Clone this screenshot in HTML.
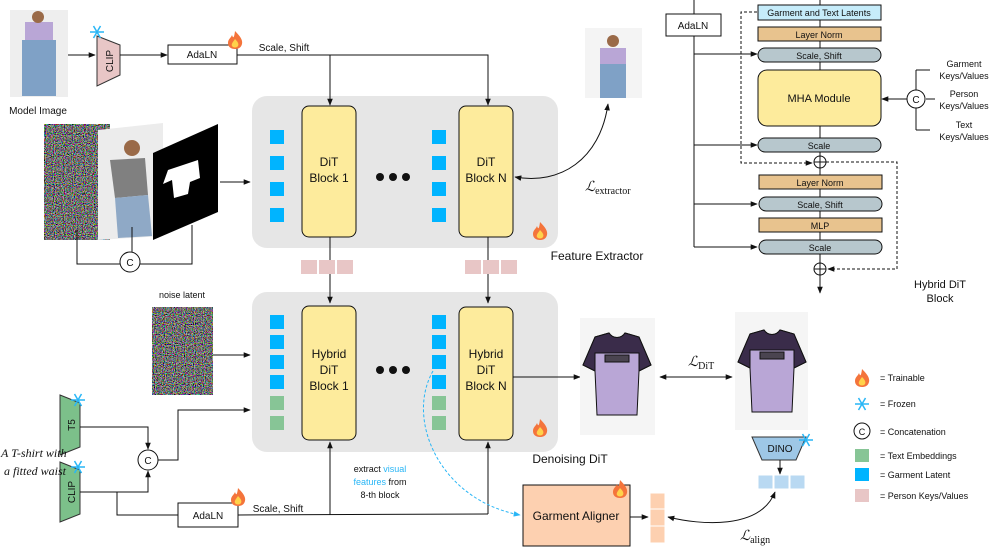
<!DOCTYPE html>
<html><head><meta charset="utf-8"><style>
body{margin:0;background:#fff}
svg{display:block;font-family:"Liberation Sans",sans-serif}
</style></head><body>
<svg width="996" height="560" viewBox="0 0 996 560" xmlns="http://www.w3.org/2000/svg">
<defs>
<marker id="a" viewBox="0 0 10 10" refX="9" refY="5" markerWidth="7" markerHeight="7" orient="auto-start-reverse"><path d="M0,1 L10,5 L0,9 z" fill="#111"/></marker>
<marker id="ab" viewBox="0 0 10 10" refX="9" refY="5" markerWidth="7" markerHeight="7" orient="auto"><path d="M0,1 L10,5 L0,9 z" fill="#29b6f6"/></marker>
<filter id="nz" x="0" y="0" width="100%" height="100%"><feTurbulence type="fractalNoise" baseFrequency="0.9" numOctaves="1" seed="3"/><feColorMatrix type="matrix" values="1.8 0 0 0 -0.7  0 1.8 0 0 -0.7  0 0 1.8 0 -0.7  0 0 0 0 1"/></filter>
<g id="flame"><path d="M0,-9 C5,-4 8,0 7,4 C6,8 3,9 0,9 C-4,9 -7,7 -7,3 C-7,-1 -4,-2 -3,-5 C-2,-2 -1,-1 0,-9z" fill="#f4743b"/><path d="M0,-1 C3,2 4,4 3,6 C2,8 -2,8 -3,6 C-4,4 -2,2 0,-1z" fill="#ffd24a"/></g>
<g id="snow" stroke="#29b6f6" stroke-width="1.5"><line x1="-7" y1="0" x2="7" y2="0"/><line x1="-3.5" y1="-6" x2="3.5" y2="6"/><line x1="3.5" y1="-6" x2="-3.5" y2="6"/></g>
<g id="shirt"><path d="M-22,-38 L-8,-42 C-4,-36 4,-36 8,-42 L22,-38 L34,-10 L22,-4 L20,40 L-20,40 L-22,-4 L-34,-10z" fill="#b9a6d6"/><path d="M-22,-38 L-8,-42 C-4,-36 4,-36 8,-42 L22,-38 L34,-10 L22,-4 L22,-22 L-22,-22 L-22,-4 L-34,-10z" fill="#3a2c4a"/><rect x="-12" y="-20" width="24" height="7" fill="#4a4450"/></g>
</defs>
<rect x="252" y="96" width="306" height="152" rx="15" fill="#e6e6e6"/>
<rect x="252" y="292" width="306" height="160" rx="15" fill="#e6e6e6"/>
<g stroke="#111" stroke-width="1" fill="none">
<!-- top row -->
<rect x="10" y="10" width="58" height="87" fill="#eeeeee" stroke="none"/>
<rect x="25" y="22" width="28" height="18" fill="#b9a6d6" stroke="none"/><rect x="22" y="40" width="34" height="56" fill="#7fa1c6" stroke="none"/><circle cx="38" cy="17" r="6" fill="#9a6a48" stroke="none"/>
<line x1="68" y1="55" x2="95" y2="55" marker-end="url(#a)"/>
<path d="M97,36 L120,45 L120,75 L97,86z" fill="#e8c6c6" stroke="#333"/>
<line x1="120" y1="55" x2="167" y2="55" marker-end="url(#a)"/>
<rect x="168" y="45" width="69" height="19" fill="#fff"/>
<path d="M237,55 L330,55 L330,105" marker-end="url(#a)"/>
<path d="M330,55 L488,55 L488,105" marker-end="url(#a)"/>
<!-- feature extractor -->
<rect x="302" y="106" width="54" height="131" rx="7" fill="#fdeb9c"/>
<rect x="459" y="106" width="54" height="131" rx="7" fill="#fdeb9c"/>
<!-- input images -->
<path d="M44,152 L110,124 L110,226 L44,240z" fill="#333" stroke="none"/>
<path d="M44,152 L110,124 L110,226 L44,240z" filter="url(#nz)" stroke="none"/>
<path d="M98,130 L163,123 L163,236 L98,240z" fill="#ececec" stroke="none"/>
<path d="M110,160 L145,158 L148,195 L115,198z" fill="#808080" stroke="none"/><path d="M115,198 L148,195 L152,236 L118,238z" fill="#8fa9c6" stroke="none"/><circle cx="132" cy="148" r="8" fill="#9a6a48" stroke="none"/>
<path d="M153,153 L218,124 L218,212 L153,240z" fill="#000" stroke="none"/>
<path d="M168,170 L198,160 L200,178 L190,182 L188,194 L174,198 L172,180 L163,184z" fill="#fff" stroke="none"/>
<line x1="220" y1="182" x2="250" y2="182" marker-end="url(#a)"/>
<path d="M77,230 L77,264 L120,264 M132,227 L132,252 M140,264 L192,264 L192,225"/>
<circle cx="130" cy="262" r="10" fill="#fff"/>
<line x1="330" y1="237" x2="330" y2="303" marker-end="url(#a)"/>
<line x1="488" y1="237" x2="488" y2="303" marker-end="url(#a)"/>
<!-- right woman & loss -->
<rect x="585" y="28" width="57" height="70" fill="#f4f4f4" stroke="none"/>
<rect x="600" y="48" width="26" height="16" fill="#b9a6d6" stroke="none"/><rect x="600" y="64" width="26" height="34" fill="#7fa1c6" stroke="none"/><circle cx="613" cy="41" r="6" fill="#9a6a48" stroke="none"/>
<path d="M515,177 C560,185 600,160 608,104" marker-start="url(#a)" marker-end="url(#a)"/>
<!-- denoising -->
<rect x="302" y="306" width="54" height="134" rx="7" fill="#fdeb9c"/>
<rect x="459" y="307" width="54" height="133" rx="7" fill="#fdeb9c"/>
<rect x="152" y="307" width="61" height="88" fill="#333" stroke="none"/>
<rect x="152" y="307" width="61" height="88" filter="url(#nz)" stroke="none"/>
<line x1="213" y1="355" x2="250" y2="355" marker-end="url(#a)"/>
<path d="M60,395 L80,403 L80,447 L60,455z" fill="#7cc08a" stroke="#333"/>
<path d="M60,462 L80,470 L80,514 L60,522z" fill="#7cc08a" stroke="#333"/>
<path d="M80,427 L148,427 L148,449" marker-end="url(#a)"/>
<path d="M80,492 L148,492 L148,471" marker-end="url(#a)"/>
<circle cx="148" cy="460" r="10" fill="#fff"/>
<path d="M158,460 L178,460 L178,410 L250,410" marker-end="url(#a)"/>
<path d="M117,492 L117,515 L178,515"/>
<rect x="178" y="503" width="60" height="24" fill="#fff"/>
<path d="M238,515 L488,514"/>
<line x1="330" y1="515" x2="330" y2="442" marker-end="url(#a)"/>
<line x1="488" y1="514" x2="488" y2="442" marker-end="url(#a)"/>
<line x1="513" y1="377" x2="580" y2="377" marker-end="url(#a)"/>
<path d="M433,371 C405,420 440,500 520,515" stroke="#29b6f6" stroke-dasharray="3,2" marker-end="url(#ab)"/>
<rect x="523" y="485" width="107" height="61" fill="#fdd0b0"/>
<rect x="650" y="493" width="15" height="16" fill="#fdd0b0" stroke="#fff"/><rect x="650" y="509" width="15" height="17" fill="#fdd0b0" stroke="#fff"/><rect x="650" y="526" width="15" height="17" fill="#fdd0b0" stroke="#fff"/>
<line x1="630" y1="517" x2="648" y2="517" marker-end="url(#a)"/>
<path d="M668,517 C700,525 760,530 775,492" marker-start="url(#a)" marker-end="url(#a)"/>
<rect x="580" y="318" width="75" height="117" fill="#f5f5f5" stroke="none"/>
<use href="#shirt" x="617" y="375"/>
<rect x="735" y="312" width="73" height="118" fill="#f5f5f5" stroke="none"/>
<use href="#shirt" x="772" y="372"/>
<line x1="660" y1="377" x2="732" y2="377" marker-start="url(#a)" marker-end="url(#a)"/>
<path d="M752,437 L806,437 L796,460 L762,460z" fill="#9ec7e6" stroke="#333"/>
<line x1="780" y1="460" x2="780" y2="474" marker-end="url(#a)"/>
<rect x="758" y="475" width="15" height="14" fill="#b9d9f2" stroke="#fff"/><rect x="774" y="475" width="15" height="14" fill="#b9d9f2" stroke="#fff"/><rect x="790" y="475" width="15" height="14" fill="#b9d9f2" stroke="#fff"/>
<!-- right block -->
<line x1="694" y1="0" x2="694" y2="14"/>
<rect x="666" y="14" width="55" height="22" fill="#fff"/>
<path d="M694,36 L694,247"/>
<line x1="694" y1="54" x2="757" y2="54" marker-end="url(#a)"/>
<line x1="694" y1="145" x2="757" y2="145" marker-end="url(#a)"/>
<line x1="694" y1="204" x2="757" y2="204" marker-end="url(#a)"/>
<line x1="694" y1="247" x2="757" y2="247" marker-end="url(#a)"/>
<line x1="820" y1="0" x2="820" y2="293" marker-end="url(#a)"/>
<rect x="758" y="5" width="123" height="15" fill="#c6ecfa"/>
<rect x="758" y="27" width="123" height="14" fill="#e8c38e"/>
<rect x="758" y="48" width="123" height="14" rx="7" fill="#b7c7cd"/>
<rect x="758" y="70" width="123" height="56" rx="9" fill="#fdeb9c"/>
<rect x="758" y="138" width="123" height="14" rx="7" fill="#b7c7cd"/>
<circle cx="820" cy="162" r="6" fill="#fff"/><path d="M814,162 h12 M820,156 v12"/>
<rect x="759" y="175" width="123" height="14" fill="#e8c38e"/>
<rect x="759" y="197" width="123" height="14" rx="7" fill="#b7c7cd"/>
<rect x="759" y="218" width="123" height="14" fill="#e8c38e"/>
<rect x="759" y="240" width="123" height="14" rx="7" fill="#b7c7cd"/>
<circle cx="820" cy="269" r="6" fill="#fff"/><path d="M814,269 h12 M820,263 v12"/>
<path d="M757,12 L741,12 L741,163 L812,163" stroke-dasharray="3,2" marker-end="url(#a)"/>
<path d="M826,162 L897,162 L897,269 L828,269" stroke-dasharray="3,2" marker-end="url(#a)"/>
<path d="M916,70 L916,130 M916,70 L930,70 M926,99 L935,99 M916,130 L930,130"/>
<circle cx="916" cy="99" r="9" fill="#fff"/>
<line x1="907" y1="99" x2="882" y2="99" marker-end="url(#a)"/>
<circle cx="862" cy="431" r="8" fill="#fff"/>
</g>
<!-- squares -->
<g fill="#00b4ff">
<rect x="270" y="130" width="14" height="14"/><rect x="270" y="156" width="14" height="14"/><rect x="270" y="182" width="14" height="14"/><rect x="270" y="208" width="14" height="14"/>
<rect x="432" y="130" width="14" height="14"/><rect x="432" y="156" width="14" height="14"/><rect x="432" y="182" width="14" height="14"/><rect x="432" y="208" width="14" height="14"/>
<rect x="270" y="315" width="14" height="14"/><rect x="270" y="335" width="14" height="14"/><rect x="270" y="355" width="14" height="14"/><rect x="270" y="375" width="14" height="14"/>
<rect x="432" y="315" width="14" height="14"/><rect x="432" y="335" width="14" height="14"/><rect x="432" y="355" width="14" height="14"/><rect x="432" y="375" width="14" height="14"/>
<rect x="855" y="468" width="14" height="13"/>
</g>
<g fill="#87c596">
<rect x="270" y="396" width="14" height="14"/><rect x="270" y="416" width="14" height="14"/><rect x="432" y="396" width="14" height="14"/><rect x="432" y="416" width="14" height="14"/>
<rect x="855" y="449" width="14" height="13"/>
</g>
<g fill="#e8c6c6">
<rect x="301" y="260" width="16" height="14"/><rect x="319" y="260" width="16" height="14"/><rect x="337" y="260" width="16" height="14"/>
<rect x="465" y="260" width="16" height="14"/><rect x="483" y="260" width="16" height="14"/><rect x="501" y="260" width="16" height="14"/>
<rect x="855" y="489" width="14" height="13"/>
</g>
<g fill="#111"><circle cx="380" cy="177" r="4"/><circle cx="393" cy="177" r="4"/><circle cx="406" cy="177" r="4"/><circle cx="380" cy="370" r="4"/><circle cx="393" cy="370" r="4"/><circle cx="406" cy="370" r="4"/></g>
<use href="#flame" x="235" y="40"/><use href="#flame" x="540" y="231"/><use href="#flame" x="540" y="428"/><use href="#flame" x="238" y="497"/><use href="#flame" x="620" y="489"/><use href="#flame" x="862" y="378"/>
<use href="#snow" x="97" y="32"/><use href="#snow" x="78" y="400"/><use href="#snow" x="78" y="467"/><use href="#snow" x="806" y="440"/><use href="#snow" x="862" y="404"/>
<g font-size="10" fill="#111" text-anchor="middle">
<text x="38" y="114">Model Image</text>
<text x="110" y="61" transform="rotate(-90 110 61)" dy="3">CLIP</text>
<text x="202" y="58">AdaLN</text>
<text x="284" y="51">Scale, Shift</text>
<text x="130" y="266">C</text>
<text x="148" y="464">C</text>
<text x="72" y="425" transform="rotate(-90 72 425)" dy="3">T5</text>
<text x="72" y="492" transform="rotate(-90 72 492)" dy="3">CLIP</text>
<text x="208" y="519">AdaLN</text>
<text x="278" y="512">Scale, Shift</text>
<text x="182" y="298" font-size="9">noise latent</text>
<text x="380" y="472" font-size="9">extract <tspan fill="#29b6f6">visual</tspan></text>
<text x="380" y="485" font-size="9"><tspan fill="#29b6f6">features</tspan> from</text>
<text x="380" y="498" font-size="9">8-th block</text>
<text x="576" y="520" font-size="12">Garment Aligner</text>
<text x="780" y="452" font-size="10">DINO</text>
<text x="329" y="166" font-size="12">DiT</text><text x="329" y="182" font-size="12">Block 1</text>
<text x="486" y="166" font-size="12">DiT</text><text x="486" y="182" font-size="12">Block N</text>
<text x="329" y="358" font-size="12">Hybrid</text><text x="329" y="374" font-size="12">DiT</text><text x="329" y="390" font-size="12">Block 1</text>
<text x="486" y="358" font-size="12">Hybrid</text><text x="486" y="374" font-size="12">DiT</text><text x="486" y="390" font-size="12">Block N</text>
<text x="597" y="260" font-size="12">Feature Extractor</text>
<text x="570" y="463" font-size="12">Denoising DiT</text>
<text x="693" y="29">AdaLN</text>
<text x="819" y="16" font-size="9">Garment and Text Latents</text>
<text x="819" y="38" font-size="9">Layer Norm</text>
<text x="819" y="59" font-size="9">Scale, Shift</text>
<text x="819" y="102" font-size="11">MHA Module</text>
<text x="819" y="149" font-size="9">Scale</text>
<text x="820" y="186" font-size="9">Layer Norm</text>
<text x="820" y="208" font-size="9">Scale, Shift</text>
<text x="820" y="229" font-size="9">MLP</text>
<text x="820" y="251" font-size="9">Scale</text>
<text x="916" y="103">C</text>
<text x="964" y="67" font-size="9">Garment</text><text x="964" y="79" font-size="9">Keys/Values</text>
<text x="964" y="97" font-size="9">Person</text><text x="964" y="109" font-size="9">Keys/Values</text>
<text x="964" y="128" font-size="9">Text</text><text x="964" y="140" font-size="9">Keys/Values</text>
<text x="940" y="288" font-size="11">Hybrid DiT</text><text x="940" y="302" font-size="11">Block</text>
<text x="862" y="435" font-size="9">C</text>
</g>
<g font-size="9" fill="#111">
<text x="880" y="381">=  Trainable</text><text x="880" y="407">=  Frozen</text><text x="880" y="435">=  Concatenation</text>
<text x="880" y="459">=  Text Embeddings</text><text x="880" y="478">=  Garment Latent</text><text x="880" y="499">=  Person Keys/Values</text>
</g>
<g font-family="Liberation Serif,serif" font-style="italic" fill="#111">
<text x="1" y="457" font-size="12">A T-shirt with</text>
<text x="4" y="475" font-size="12">a fitted waist</text>
<text x="585" y="191" font-size="14" font-style="italic">ℒ<tspan font-size="10" font-style="normal" dy="3">extractor</tspan></text>
<text x="688" y="366" font-size="14">ℒ<tspan font-size="10" font-style="normal" dy="3">DiT</tspan></text>
<text x="740" y="540" font-size="14">ℒ<tspan font-size="10" font-style="normal" dy="3">align</tspan></text>
</g>
</svg>
</body></html>
